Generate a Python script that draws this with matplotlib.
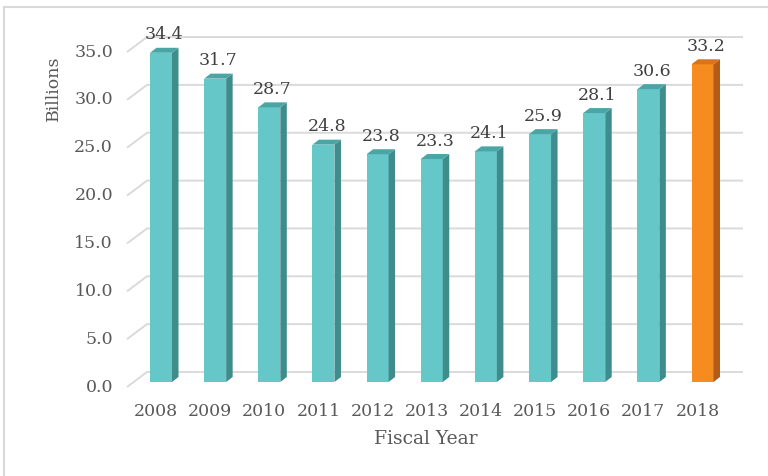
import matplotlib.pyplot as plt
from matplotlib.lines import Line2D
from matplotlib.patches import Polygon

plt.rcParams['font.family'] = ['DejaVu Serif']

# Spending per fiscal year, in billions
years = ['2008', '2009', '2010', '2011', '2012', '2013', '2014', '2015', '2016', '2017', '2018']
billions = [34.4, 31.7, 28.7, 24.8, 23.8, 23.3, 24.1, 25.9, 28.1, 30.6, 33.2]
y_ticks = [0, 5, 10, 15, 20, 25, 30, 35]
highlight = '2018'

teal = ('#66c7c8', '#3f8c8c', '#4ba5a5')      # front, side, top
orange = ('#f68b1f', '#b35c17', '#d87419')

fig = plt.figure(figsize=(7.68, 4.76), dpi=100)
ax = fig.add_axes([0, 0, 1, 1])
ax.axis('off')

# pixel layout of the bar plane: category spacing and value scale
x0_px, step_px = 161, 54.15
y0_px, unit_px = 382, 9.57
ax.set_xlim(-x0_px / step_px, (768 - x0_px) / step_px)
ax.set_ylim((y0_px - 476) / unit_px, y0_px / unit_px)

def px_x(d):
    return d / step_px

def px_y(d):
    return d / unit_px

# 3-D depth: front plane, back wall, and bar thickness
front_dx, front_dy = px_x(-6.7), px_y(-5)
back_dx, back_dy = px_x(13.3), px_y(10)
bar_dx, bar_dy = px_x(6.5), px_y(5)
grid_right = px_x(743 - x0_px)
left_front = px_x(127 - x0_px)
left_back = left_front + back_dx - front_dx

grid_col = '#dadada'
for t in y_ticks:
    ax.plot([left_front, left_back, grid_right],
            [t + front_dy, t + back_dy, t + back_dy],
            color=grid_col, lw=1.4, zorder=1, solid_capstyle='butt')
    ax.text(px_x(113 - x0_px), t + front_dy, f'{t:.1f}', ha='right', va='center',
            fontsize=12.5, color='#595959')

xs = list(range(len(years)))
width = px_x(22)
fronts = [orange[0] if y == highlight else teal[0] for y in years]
bars = ax.bar(xs, billions, width=width, color=fronts, zorder=3)

for x, v, yr in zip(xs, billions, years):
    pal = orange if yr == highlight else teal
    xl, xr = x - width / 2, x + width / 2
    side = Polygon([(xr, 0), (xr + bar_dx, bar_dy), (xr + bar_dx, v + bar_dy), (xr, v)],
                   closed=True, facecolor=pal[1], edgecolor='none', zorder=3)
    top = Polygon([(xl, v), (xr, v), (xr + bar_dx, v + bar_dy), (xl + bar_dx, v + bar_dy)],
                  closed=True, facecolor=pal[2], edgecolor='none', zorder=3)
    ax.add_patch(side)
    ax.add_patch(top)
    ax.text(x + bar_dx / 2, v + bar_dy + px_y(13), f'{v:.1f}', ha='center', va='center',
            fontsize=12.5, color='#404040', zorder=4)
    ax.text(x + px_x(-5), px_y(y0_px - 411), yr, ha='center', va='center',
            fontsize=12.5, color='#595959')

ax.text(px_x(53 - x0_px), px_y(y0_px - 88), 'Billions', rotation=90, ha='center', va='center',
        fontsize=12.5, color='#595959')
ax.text(px_x(426 - x0_px), px_y(y0_px - 439), 'Fiscal Year', ha='center', va='center',
        fontsize=13.5, color='#595959')

# outer chart frame (top and left edges)
fig.add_artist(Line2D([4 / 768, 1], [1 - 6.5 / 476, 1 - 6.5 / 476], transform=fig.transFigure,
                      color='#d9d9d9', lw=1.5))
fig.add_artist(Line2D([4 / 768, 4 / 768], [0, 1 - 6.5 / 476], transform=fig.transFigure,
                      color='#d9d9d9', lw=1.5))

fig.savefig('out.png', dpi=100)
